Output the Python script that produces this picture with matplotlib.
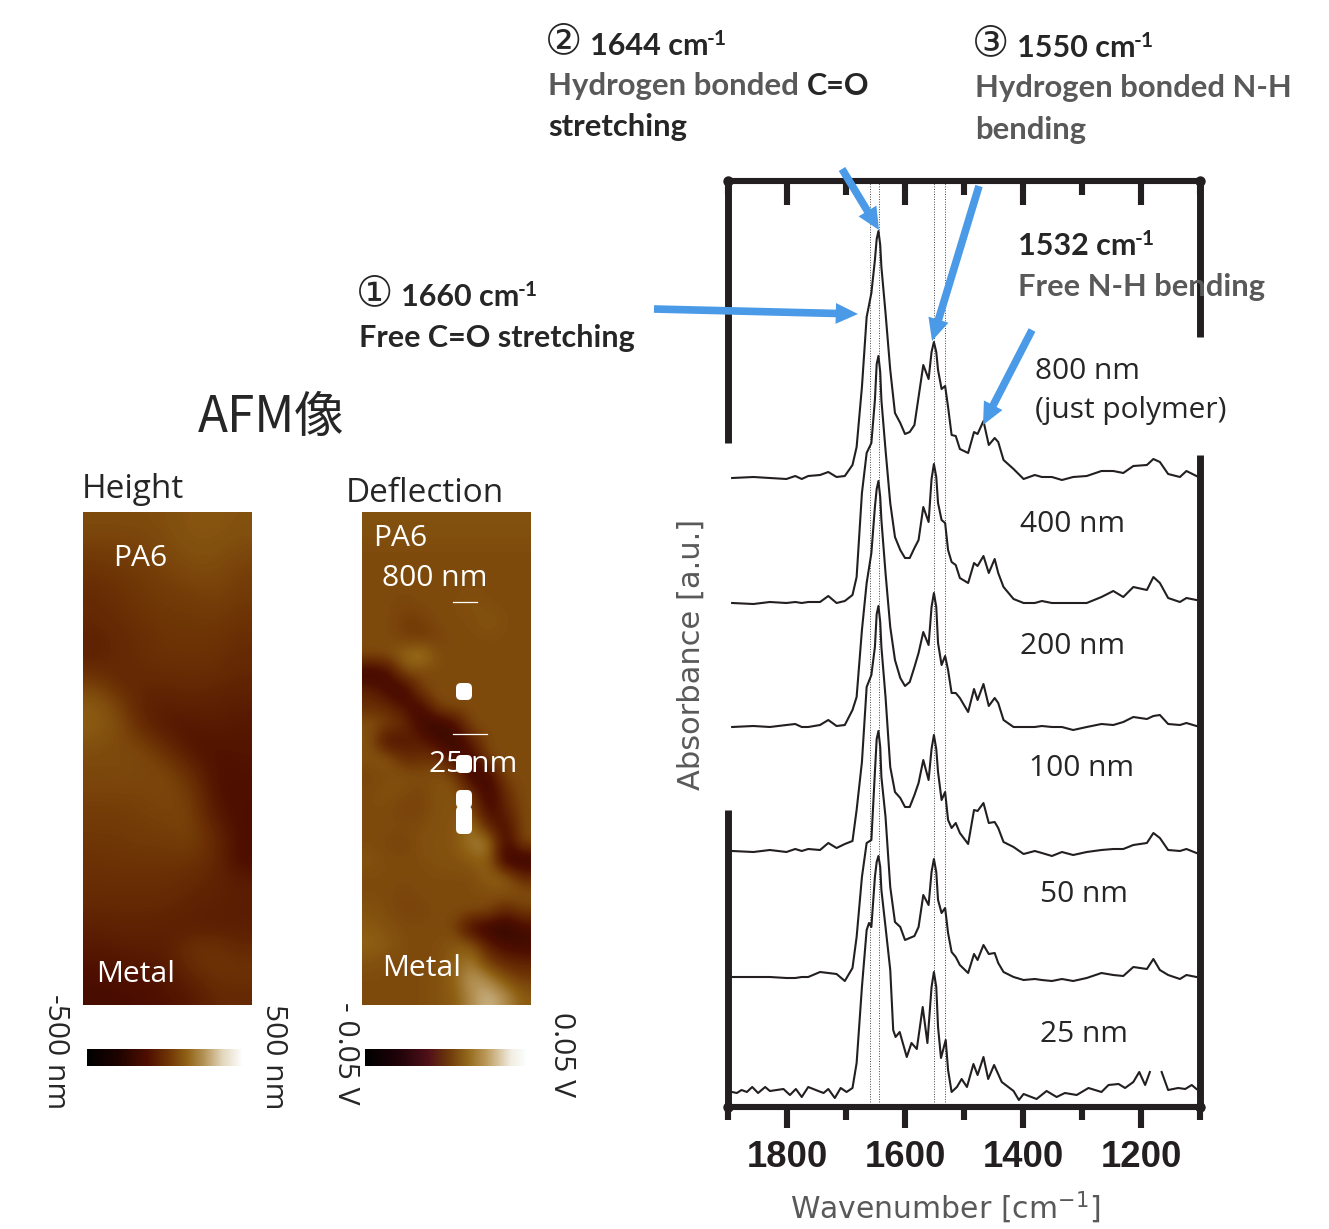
import numpy as np
import matplotlib
matplotlib.use('Agg')
import matplotlib.pyplot as plt
from matplotlib.colors import LinearSegmentedColormap
from matplotlib.patches import FancyBboxPatch
from matplotlib.ticker import MultipleLocator

W, H = 1329, 1229

# spectra, absorbance in a.u. (stacked, offsets included)
wavenumber = [1893, 1857, 1829, 1801, 1786, 1775, 1764, 1744, 1730, 1716, 1702, 1689, 1682, 1673, 1665, 1657,
              1651, 1648, 1645, 1642, 1640, 1633, 1625, 1617, 1608, 1600, 1592, 1584, 1577, 1569, 1560, 1555,
              1551, 1547, 1544, 1538,
              1532, 1527, 1521, 1514, 1507, 1493, 1483, 1477, 1467, 1458, 1448, 1442, 1433, 1416, 1399, 1380,
              1368, 1351, 1334, 1315, 1292, 1267, 1247, 1230, 1213, 1190, 1179, 1168, 1154, 1134, 1123, 1106]
abs_800 = [629, 630, 629, 628, 631, 628, 631, 632, 635, 630, 631, 642, 660, 720, 790, 814,
           847, 868, 876, 862, 840, 794, 737, 694, 684, 673, 675, 682, 710, 742, 728, 755,
           765, 755, 737, 718,
           721, 700, 672, 671, 658, 654, 675, 673, 686, 662, 669, 665, 647, 638, 628, 632,
           630, 630, 627, 630, 631, 636, 636, 634, 641, 642, 648, 645, 633, 630, 636, 631]
abs_400 = [504, 503, 505, 504, 505, 504, 505, 505, 511, 504, 506, 512, 530, 614, 654, 664,
           707, 743, 751, 735, 707, 657, 604, 570, 557, 549, 549, 559, 567, 600, 585, 628,
           643, 630, 604, 587,
           584, 557, 545, 542, 529, 524, 544, 541, 551, 534, 548, 534, 520, 508, 504, 504,
           506, 504, 504, 504, 504, 510, 516, 510, 520, 517, 530, 524, 509, 505, 509, 507]
abs_200 = [380, 381, 380, 382, 383, 380, 380, 382, 387, 381, 382, 397, 410, 477, 524, 554,
           600, 618, 626, 610, 587, 534, 480, 447, 429, 421, 425, 440, 454, 475, 462, 500,
           514, 500, 464, 442,
           451, 437, 414, 414, 409, 395, 418, 407, 423, 401, 409, 404, 387, 380, 380, 380,
           381, 380, 380, 377, 380, 383, 382, 385, 390, 388, 391, 392, 383, 382, 384, 381]
abs_100 = [256, 255, 257, 255, 258, 256, 258, 257, 264, 259, 263, 266, 297, 345, 420, 432,
           460, 493, 501, 485, 460, 410, 340, 315, 309, 300, 300, 312, 324, 347, 327, 358,
           372, 358, 335, 307,
           315, 287, 279, 284, 274, 263, 297, 296, 304, 284, 285, 279, 265, 260, 253, 256,
           254, 251, 255, 252, 255, 257, 258, 258, 262, 264, 274, 269, 257, 256, 258, 254]
abs_50 = [130, 130, 130, 129, 129, 130, 130, 135, 134, 133, 126, 139, 170, 230, 264, 267,
          335, 368, 376, 360, 330, 290, 220, 185, 180, 167, 169, 171, 180, 212, 202, 235,
          248, 235, 207, 194,
          199, 174, 155, 150, 142, 134, 153, 147, 162, 153, 154, 144, 135, 130, 127, 128,
          127, 126, 128, 126, 129, 134, 132, 131, 140, 138, 148, 137, 132, 128, 132, 130]
# 25 nm is noisier and has a hole where the label box covers the peak
wavenumber_25 = [1893, 1885, 1877, 1868, 1859, 1849, 1837, 1829, 1806, 1795, 1785, 1775, 1764, 1747, 1738, 1730,
                 1719, 1709, 1699, 1689, 1682, 1673, 1665, 1661, 1657, 1651, 1648, 1645, 1642, 1640, 1633, 1625,
                 1620, 1616, 1609, 1597, 1589, 1580, 1570, 1562, 1555, 1551, 1547, 1544, 1539, 1531, 1527, 1521,
                 1512, 1504, 1495, 1484, 1477, 1467, 1459, 1449, 1436, 1416, 1407, 1399, 1377, 1360, 1343, 1329,
                 1309, 1289, 1267, 1255, 1238, 1227, 1213, 1203, 1193, 1185, 1175, 1165, 1154, 1137, 1125, 1114, 1106]
abs_25 = [15, 14, 17, 15, 20, 14, 20, 16, 18, 12, 18, 10, 20, 16, 14, 18,
          9, 19, 15, 19, 44, 120, 177, 184, 180, 230, 245, 251, 240, 217, 180, 137,
          77, 70, 75, 50, 64, 58, 100, 64, 120, 135, 120, 80, 49, 67, 37, 15,
          20, 28, 20, 43, 32, 50, 28, 42, 25, 16, 7, 13, 8, 16, 10, 14,
          12, 19, 15, 22, 23, 19, 25, 35, 22, 35, np.nan, 35, 17, 19, 18, 22, 18]

peak_lines = [1660, 1644, 1550, 1532]
sample_labels = ['800 nm\n(just polymer)', '400 nm', '200 nm', '100 nm', '50 nm', '25 nm']

# AFM maps, coarse readings on the colour scale (0-100)
height_map = [
    [58, 58, 58, 59, 61, 61, 60], [55, 55, 56, 58, 60, 60, 58], [52, 53, 54, 56, 58, 58, 55],
    [49, 51, 53, 54, 55, 56, 54], [48, 50, 52, 53, 53, 54, 52], [46, 48, 50, 52, 52, 52, 50],
    [45, 48, 50, 51, 51, 51, 48], [54, 47, 48, 48, 49, 48, 47], [62, 55, 45, 45, 46, 45, 44],
    [63, 59, 47, 42, 42, 44, 42], [59, 57, 57, 48, 40, 40, 41], [57, 58, 57, 57, 48, 39, 40],
    [56, 56, 56, 57, 54, 39, 39], [54, 54, 55, 56, 56, 42, 38], [53, 53, 54, 54, 56, 48, 38],
    [51, 52, 52, 52, 52, 48, 37], [50, 50, 50, 50, 48, 46, 44], [48, 48, 48, 48, 46, 45, 44],
    [45, 46, 46, 45, 44, 44, 44], [42, 43, 44, 44, 52, 52, 48], [39, 40, 41, 42, 48, 52, 52],
    [36, 36, 38, 40, 42, 48, 48]]
deflection_map = [
    [60, 60, 60, 60, 60, 60, 60, 60, 60, 60], [59, 59, 59, 59, 59, 59, 59, 59, 59, 59],
    [58, 58, 58, 58, 58, 58, 58, 58, 58, 58], [58, 58, 58, 58, 58, 58, 58, 58, 58, 58],
    [58, 58, 58, 58, 58, 58, 58, 58, 58, 58], [58, 58, 56, 58, 58, 58, 60, 58, 58, 58],
    [58, 58, 54, 54, 58, 58, 58, 61, 58, 58], [58, 58, 55, 53, 56, 58, 58, 58, 58, 58],
    [58, 58, 66, 72, 58, 58, 58, 58, 58, 58], [30, 34, 58, 56, 58, 58, 58, 58, 58, 58],
    [46, 36, 30, 57, 58, 58, 58, 58, 58, 58], [50, 48, 40, 32, 58, 58, 58, 58, 58, 58],
    [60, 56, 50, 34, 28, 38, 58, 58, 58, 58], [60, 36, 42, 44, 34, 28, 46, 58, 58, 58],
    [60, 62, 48, 50, 52, 36, 32, 58, 58, 58], [56, 58, 60, 58, 60, 56, 30, 34, 58, 58],
    [58, 60, 58, 56, 60, 60, 50, 30, 50, 58], [58, 58, 55, 56, 60, 60, 58, 34, 46, 58],
    [58, 58, 58, 58, 60, 60, 68, 46, 36, 58], [58, 57, 55, 60, 60, 60, 70, 72, 32, 58],
    [60, 58, 58, 58, 60, 60, 62, 64, 30, 28], [58, 58, 58, 58, 58, 58, 58, 64, 64, 48],
    [58, 58, 56, 58, 58, 58, 58, 58, 60, 60], [60, 58, 56, 56, 58, 58, 58, 58, 46, 54],
    [62, 60, 58, 58, 58, 56, 34, 30, 26, 36], [64, 62, 58, 58, 58, 62, 62, 44, 36, 34],
    [60, 58, 58, 58, 58, 64, 70, 54, 48, 46], [58, 58, 58, 58, 60, 64, 78, 72, 60, 54],
    [58, 58, 58, 58, 60, 62, 74, 82, 74, 62]]

afm_cmap = LinearSegmentedColormap.from_list('afm', [
    (0, '#000000'), (0.2, '#1e0300'), (0.39, '#4f0f00'), (0.52, '#6e3405'),
    (0.64, '#8f6114'), (0.75, '#b49256'), (0.87, '#e2d6bc'), (1, '#ffffff')])
afm_cmap2 = LinearSegmentedColormap.from_list('afm2', [
    (0, '#000000'), (0.2, '#1e0308'), (0.39, '#4f0f18'), (0.52, '#6e3a0a'),
    (0.64, '#946a1c'), (0.75, '#bc9a5c'), (0.9, '#f0ece0'), (1, '#fcffff')])


def px_axes(x0, y0, x1, y1):
    return fig.add_axes([x0 / W, 1 - y1 / H, (x1 - x0) / W, (y1 - y0) / H])


fig = plt.figure(figsize=(W / 100, H / 100), dpi=100)
plt.rcParams['font.family'] = ['Lato', 'DejaVu Sans']

# spectra panel
ax = px_axes(728, 181, 1200, 1107)
ax.set_xlim(1900, 1100)
ax.set_ylim(0, 926)
ink = '#231f20'
for x in peak_lines:
    ax.axvline(x, color='#444444', lw=0.7, ls=(0, (1, 1.6)), zorder=1)
for y in [abs_800, abs_400, abs_200, abs_100, abs_50]:
    ax.plot(wavenumber, y, color=ink, lw=1.5, solid_joinstyle='round', zorder=2)
ax.plot(wavenumber_25, abs_25, color=ink, lw=1.5, solid_joinstyle='round', zorder=2)

for side in ['left', 'right']:
    ax.spines[side].set_visible(False)
for side in ['top', 'bottom']:
    ax.spines[side].set_linewidth(4.4)
    ax.spines[side].set_color(ink)
# the frame sides are broken where label boxes sit over them
ax.vlines([1900, 1900], [664, 0], [926, 297], color=ink, lw=5, clip_on=False)
ax.vlines([1100, 1100], [770, 0], [926, 652], color=ink, lw=5, clip_on=False)
ax.plot([1900, 1100, 1900, 1100], [0, 0, 926, 926], 'o', color=ink, ms=7.5, mew=0, clip_on=False, zorder=5)

ax.xaxis.set_minor_locator(MultipleLocator(100))
ax.set_yticks([])
ax.tick_params(axis='x', which='major', direction='out', length=15, width=4.4, color=ink, pad=9)
ax.tick_params(axis='x', which='minor', direction='out', length=9, width=4.4, color=ink)
ax.set_xticks([1800, 1600, 1400, 1200])
ax.set_xticklabels(['1800', '1600', '1400', '1200'], family='Liberation Sans', fontweight='bold', fontsize=26.3, color=ink)
top = ax.secondary_xaxis('top')
top.xaxis.set_minor_locator(MultipleLocator(100))
top.set_xticks([1800, 1600, 1400, 1200])
top.spines['top'].set_visible(False)
top.tick_params(axis='x', which='major', direction='in', length=17, width=4.4, color=ink, labeltop=False)
top.tick_params(axis='x', which='minor', direction='in', length=10, width=4.4, color=ink)

# AFM images
ax_h = px_axes(83, 512, 251, 1005)
im_h = ax_h.imshow(height_map, cmap=afm_cmap, vmin=0, vmax=100, aspect='auto', interpolation='bicubic')
ax_h.axis('off')
ax_d = px_axes(362, 512, 531, 1005)
im_d = ax_d.imshow(deflection_map, cmap=afm_cmap, vmin=0, vmax=100, aspect='auto', interpolation='bicubic')
ax_d.axis('off')

cb1 = fig.colorbar(im_h, cax=px_axes(87, 1049, 243, 1066), orientation='horizontal')
sm2 = plt.cm.ScalarMappable(norm=im_d.norm, cmap=afm_cmap2)
cb2 = fig.colorbar(sm2, cax=px_axes(365, 1049, 527, 1066), orientation='horizontal')
for cb in [cb1, cb2]:
    cb.set_ticks([])
    cb.outline.set_visible(False)

# everything else is placed on a pixel overlay
ov = fig.add_axes([0, 0, 1, 1])
ov.set_xlim(0, W)
ov.set_ylim(H, 0)
ov.axis('off')
ov.patch.set_alpha(0)

dark = '#262626'
grey = '#595959'
blue = '#4a9ae8'


def label(x, y, s, size=22, color=dark, weight='normal', **kw):
    return ov.text(x, y + 1, s, fontsize=size, color=color, fontweight=weight, va='center', **kw)


def arrow(x0, y0, x1, y1):
    ov.annotate('', xy=(x1, y1), xytext=(x0, y0),
                arrowprops=dict(width=5.5, headwidth=15, headlength=16, facecolor=blue, edgecolor='none'))


arrow(654, 309, 858, 314)
arrow(842, 169, 879, 230)
arrow(979, 186, 932, 341)
arrow(1032, 330, 983, 425)

circ = ['DejaVu Sans']
# band assignments
label(356, 292, '①', 30, dark, family=circ)
label(401, 296, '1660 cm', 22, dark, 'bold')
label(518, 289, '-1', 15, dark, 'bold')
label(359, 337, 'Free C=O stretching', 22, dark, 'bold')
label(545, 40, '②', 30, dark, family=circ)
label(590, 45, '1644 cm', 22, dark, 'bold')
label(707, 38, '-1', 15, dark, 'bold')
label(548, 85, 'Hydrogen bonded', 22.4, grey, 'bold')
label(807, 85, 'C=O', 22, dark, 'bold')
label(548, 126, 'stretching', 22.3, dark, 'bold')
label(972, 42, '③', 30, dark, family=circ)
label(1017, 47, '1550 cm', 22, dark, 'bold')
label(1134, 40, '-1', 15, dark, 'bold')
label(975, 87, 'Hydrogen bonded N-H', 22.3, grey, 'bold')
label(975, 129, 'bending', 22.3, grey, 'bold')
label(1018, 245, '1532 cm', 22, dark, 'bold')
label(1135, 238, '-1', 15, dark, 'bold')
label(1018, 286, 'Free N-H bending', 22.2, grey, 'bold')

# sample thickness
sample_x = [1035, 1020, 1020, 1029, 1040, 1040]
sample_y = [391, 525, 647, 769, 894, 1035]
for x, y, s in zip(sample_x, sample_y, sample_labels):
    ov.text(x, y, s, fontsize=21.5, color=dark, va='center', linespacing=1.46, family='Open Sans')

ov.text(691, 654, 'Absorbance [a.u.]', fontsize=22, color=grey, rotation=90, ha='center', va='center',
        family='DejaVu Sans')
ov.text(945, 1208, r'Wavenumber [cm$^{-1}$]', fontsize=21.5, color=grey, ha='center', va='center',
        family='DejaVu Sans')

ov.text(271, 418, 'AFM像', fontsize=35.5, color=dark, ha='center', va='center', family=['Noto Sans CJK JP'])
ov.text(82, 489, 'Height', fontsize=24, color=dark, va='center', family='Open Sans')
ov.text(346, 493, 'Deflection', fontsize=24, color=dark, va='center', family='Open Sans')

for x, y, s in [(113, 559, 'PA6'), (96, 974, 'Metal'), (373, 538, 'PA6'), (382, 578, '800 nm'),
                (429, 764, '25 nm'), (382, 969, 'Metal')]:
    ov.text(x, y, s, fontsize=21.6, color='white', va='center', family='Open Sans')

for x, y, s in [(55, 1052, '-500 nm'), (274, 1057, '500 nm'), (345, 1053, '- 0.05 V'), (561, 1055, '0.05 V')]:
    ov.text(x, y, s, fontsize=21.6, color=dark, rotation=-90, ha='center', va='center', family='Open Sans')

# measurement marks on the deflection map
ov.plot([453, 477], [602, 602], color='white', lw=0.9)
ov.plot([453, 487], [734, 734], color='white', lw=0.9)
for y0, y1 in [(683, 700), (755, 773), (790, 808), (806, 834)]:
    ov.add_patch(FancyBboxPatch((460, y0 + 4), 8, y1 - y0 - 8, boxstyle='round,pad=4,rounding_size=5',
                                facecolor='white', edgecolor='none'))

fig.savefig('out.png', dpi=100)
